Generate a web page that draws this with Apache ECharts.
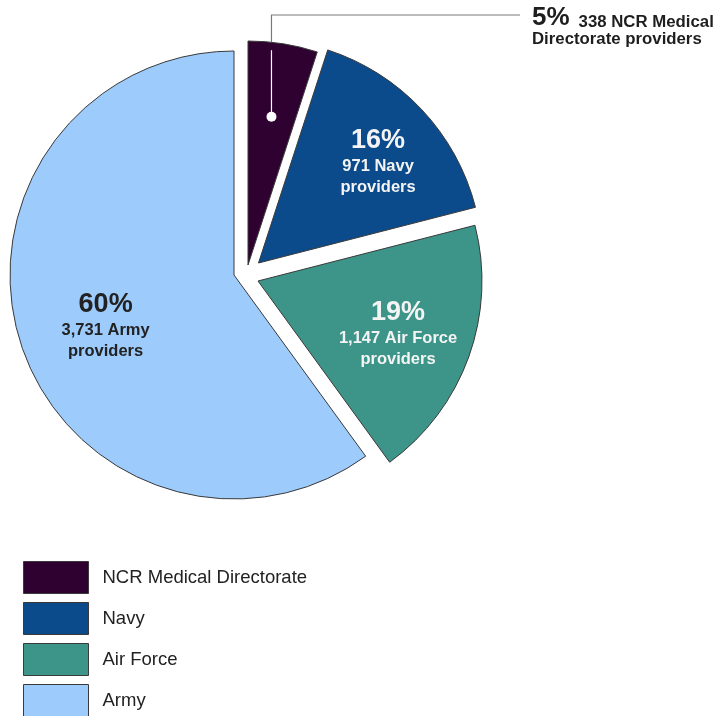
<!DOCTYPE html>
<html>
<head>
<meta charset="utf-8">
<script src="https://cdn.jsdelivr.net/npm/echarts@6/dist/echarts.min.js"></script>
<style>
    html, body { margin: 0; padding: 0; background: #fff; }
    #chart { width: 721px; height: 716px; }
</style>
</head>
<body>
<div id="chart"></div>
<script>
// data
var categories = ['NCR Medical Directorate', 'Navy', 'Air Force', 'Army'];
var percents = [5, 16, 19, 60];
var providers = [338, 971, 1147, 3731];
var labelLine1 = ['NCR Medical', 'Navy', 'Air Force', 'Army'];
var labelLine2 = ['Directorate providers', 'providers', 'providers', 'providers'];
var colors = ['#2e0130', '#0b4a8b', '#3d958a', '#9dcbfb'];

// layout (exploded slices each get their own centre)
var R = 224;
var centers = [[248, 265], [258.5, 263], [258, 281], [234, 275]];
var labelRadius = [0.67, 0.699, 0.667, 0.616];
var labelTurn = [0, 3.0, 0.6, -3.5];
var leaderY = 15, leaderEndX = 520, outLabelX = 532;
var fontFamily = '"Liberation Sans", Arial, sans-serif';

var cum = [];
var acc = 0;
for (var i = 0; i < percents.length; i++) {
    cum.push(acc);
    acc += percents[i];
}

function polar(i, frac, turn) {
    var a = ((cum[i] + percents[i] / 2) * 3.6 + turn) * Math.PI / 180;
    return [centers[i][0] + frac * R * Math.sin(a), centers[i][1] - frac * R * Math.cos(a)];
}

// leader for the small slice: white inside the slice, grey outside
var dot = polar(0, labelRadius[0], labelTurn[0]);
var edgeY = centers[0][1] - Math.sqrt(R * R - Math.pow(dot[0] - centers[0][0], 2));

function makeSeries(i) {
    var pctText = percents[i] + '%';
    var countText = providers[i].toLocaleString('en-US');
    var textColor = i === 3 ? '#222' : '#f4f4f4';
    var label;
    if (i === 0) {
        label = {
            show: true,
            position: 'outside',
            fontFamily: fontFamily,
            formatter: '{p|' + pctText + '}{s|' + countText + ' ' + labelLine1[i] + '}\n{s2|' + labelLine2[i] + '}',
            rich: {
                p: { fontSize: 26, fontWeight: 'bold', color: '#1e1e1e', lineHeight: 30, verticalAlign: 'bottom', padding: [0, 9, 0, 0], fontFamily: fontFamily },
                s: { fontSize: 16.8, fontWeight: 'bold', color: '#1e1e1e', lineHeight: 23.6, verticalAlign: 'bottom', fontFamily: fontFamily },
                s2: { fontSize: 16.8, fontWeight: 'bold', color: '#1e1e1e', lineHeight: 17, fontFamily: fontFamily }
            }
        };
    } else {
        label = {
            show: true,
            position: 'inside',
            fontFamily: fontFamily,
            formatter: '{p|' + pctText + '}\n{t|' + countText + ' ' + labelLine1[i] + '}\n{t|' + labelLine2[i] + '}',
            rich: {
                p: { fontSize: 27, fontWeight: 'bold', color: textColor, lineHeight: 31, align: 'center', fontFamily: fontFamily },
                t: { fontSize: 16.5, fontWeight: 'bold', color: textColor, lineHeight: 21, align: 'center', fontFamily: fontFamily }
            }
        };
    }
    return {
        type: 'pie',
        center: centers[i],
        radius: R,
        startAngle: 90 - cum[i] * 3.6,
        clockwise: true,
        silent: true,
        avoidLabelOverlap: false,
        animation: false,
        emphasis: { disabled: true },
        itemStyle: { borderColor: '#3a3a3a', borderWidth: 1 },
        data: [
            {
                name: categories[i],
                value: percents[i],
                itemStyle: { color: colors[i] },
                label: label,
                labelLine: {
                    show: i === 0,
                    lineStyle: { width: 1.2, color: '#7a7a7a' }
                }
            },
            {
                name: '',
                value: 100 - percents[i],
                itemStyle: { color: 'rgba(0,0,0,0)', borderWidth: 0 },
                label: { show: false },
                labelLine: { show: false }
            }
        ],
        labelLayout: function (params) {
            if (params.dataIndex !== 0) return {};
            if (i === 0) {
                return {
                    x: outLabelX,
                    y: 1,
                    align: 'left',
                    verticalAlign: 'top',
                    labelLinePoints: [[dot[0], edgeY], [dot[0], leaderY], [leaderEndX, leaderY]]
                };
            }
            var p = polar(i, labelRadius[i], labelTurn[i]);
            return { x: p[0], y: p[1], align: 'center', verticalAlign: 'middle' };
        }
    };
}

var series = [];
for (var k = 0; k < categories.length; k++) {
    series.push(makeSeries(k));
}

var myChart = echarts.init(document.getElementById('chart'));
var option = {
    animation: false,
    backgroundColor: '#fff',
    legend: {
        orient: 'vertical',
        left: 23,
        top: 561,
        height: 170,
        padding: 0,
        icon: 'rect',
        itemWidth: 65,
        itemHeight: 32,
        itemGap: 8,
        selectedMode: false,
        data: categories,
        itemStyle: { borderColor: '#3a3a3a', borderWidth: 1 },
        textStyle: { fontSize: 18.5, color: '#222', fontFamily: fontFamily, padding: [0, 0, 0, 9] }
    },
    graphic: [{
        type: 'line',
        z: 100,
        shape: { x1: dot[0], y1: dot[1], x2: dot[0], y2: edgeY + 8 },
        style: { stroke: '#fff', lineWidth: 1.2 }
    }, {
        type: 'circle',
        z: 100,
        shape: { cx: dot[0], cy: dot[1], r: 5 },
        style: { fill: '#fff' }
    }],
    series: series
};
myChart.setOption(option);
</script>
</body>
</html>
